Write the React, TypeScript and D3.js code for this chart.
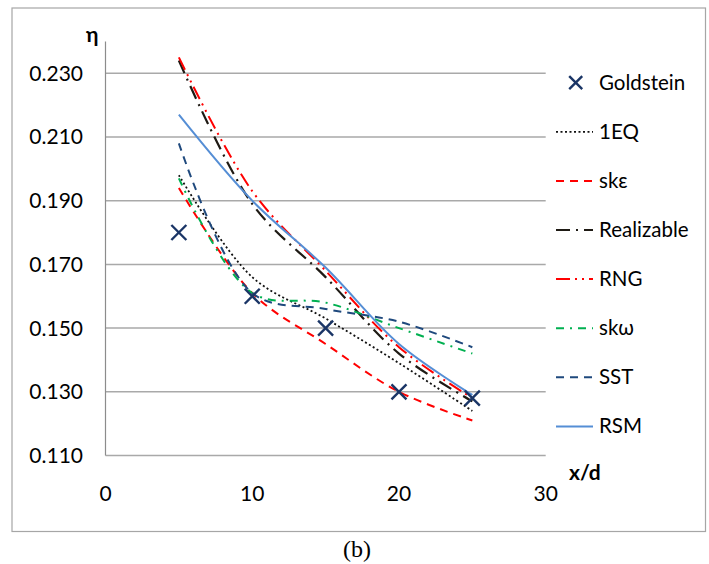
import React from "react";
import * as d3 from "d3";

const xValues = [5, 10, 15, 20, 25];
const goldstein = [0.180, 0.160, 0.150, 0.130, 0.128];
const eq1 = [0.198, 0.166, 0.153, 0.139, 0.124];
const skEps = [0.194, 0.161, 0.145, 0.130, 0.121];
const realizable = [0.234, 0.189, 0.166, 0.142, 0.127];
const rng = [0.235, 0.193, 0.168, 0.144, 0.128];
const skOmega = [0.197, 0.161, 0.158, 0.150, 0.142];
const sst = [0.208, 0.161, 0.156, 0.152, 0.144];
const rsm = [0.217, 0.190, 0.169, 0.145, 0.129];

const xTicks = [0, 10, 20, 30];
const yTicks = [0.11, 0.13, 0.15, 0.17, 0.19, 0.21, 0.23];

const lineSeries = [
  { name: "1EQ", values: eq1, color: "#111111", dash: "2,2.5", width: 1.8 },
  { name: "skε", values: skEps, color: "#ff0000", dash: "8,6", width: 2 },
  { name: "Realizable", values: realizable, color: "#1e1a14", dash: "14,6,2,6", width: 2.2 },
  { name: "RNG", values: rng, color: "#ff0000", dash: "14,5,2,5,2,5", width: 2 },
  { name: "skω", values: skOmega, color: "#00b050", dash: "8,6,2,6", width: 2 },
  { name: "SST", values: sst, color: "#1f497d", dash: "8,6", width: 2 },
  { name: "RSM", values: rsm, color: "#558ed5", dash: "", width: 2 },
];

const FONT = "Lato, 'Noto Sans', 'DejaVu Sans', sans-serif";
const MARK = "#1a3566";

export default function App() {
  const x = d3.scaleLinear().domain([0, 30]).range([105.5, 545.7]);
  const y = d3.scaleLinear().domain([0.11, 0.24]).range([455.5, 41.4]);
  const line = d3
    .line<number>()
    .x((_, i) => x(xValues[i]))
    .y((d) => y(d))
    .curve(d3.curveCatmullRom.alpha(0.5));

  const legendX0 = 556;
  const legendX1 = 593;
  const legendTextX = 599;
  const legendY0 = 82.7;
  const legendStep = 49.1;

  const cross = (cx: number, cy: number, s: number, key: string) => (
    <g key={key} stroke={MARK} strokeWidth={2.4}>
      <line x1={cx - s} y1={cy - s} x2={cx + s} y2={cy + s} />
      <line x1={cx - s} y1={cy + s} x2={cx + s} y2={cy - s} />
    </g>
  );

  return (
    <svg
      width={709}
      height={564}
      style={{ position: "absolute", left: 0, top: 0, background: "#fff" }}
      fontFamily={FONT}
    >
      <rect x={0} y={0} width={709} height={564} fill="#fff" />
      <rect x={12} y={8} width={693.5} height={523.5} fill="#fff" stroke="#a6a6a6" strokeWidth={1.2} />

      {yTicks.map((t) => (
        <g key={"y" + t}>
          <line x1={x(0)} x2={x(30)} y1={y(t)} y2={y(t)} stroke="#a9a9a9" strokeWidth={1.5} />
          <text x={83} y={y(t) + 7.5} textAnchor="end" fontSize={21} fill="#000">
            {d3.format(".3f")(t)}
          </text>
        </g>
      ))}
      <line x1={x(0)} x2={x(0)} y1={y(0.24)} y2={y(0.11)} stroke="#8c8c8c" strokeWidth={1.2} />

      {xTicks.map((t) => (
        <text key={"x" + t} x={x(t)} y={501} textAnchor="middle" fontSize={21} fill="#000">
          {t}
        </text>
      ))}

      <text x={86} y={42} fontSize={21} fontWeight="bold" fill="#000">η</text>
      <text x={569} y={480} fontSize={21} fontWeight="bold" fill="#000">x/d</text>

      {lineSeries.map((s) => (
        <path
          key={s.name}
          d={line(s.values) || ""}
          fill="none"
          stroke={s.color}
          strokeWidth={s.width}
          strokeDasharray={s.dash}
        />
      ))}

      {goldstein.map((v, i) => cross(x(xValues[i]), y(v), 7.5, "g" + i))}

      {cross(575.7, legendY0, 6.5, "lg")}
      <text x={legendTextX} y={legendY0 + 7} fontSize={20.5} fill="#000">Goldstein</text>
      {lineSeries.map((s, i) => {
        const ly = legendY0 + legendStep * (i + 1);
        return (
          <g key={"l" + s.name}>
            <line
              x1={legendX0}
              x2={legendX1}
              y1={ly}
              y2={ly}
              stroke={s.color}
              strokeWidth={s.width}
              strokeDasharray={s.dash}
            />
            <text x={legendTextX} y={ly + 7} fontSize={20.5} fill="#000">
              {s.name}
            </text>
          </g>
        );
      })}

      <text
        x={357}
        y={557}
        textAnchor="middle"
        fontSize={24}
        fontFamily="'Liberation Serif', 'DejaVu Serif', serif"
        fill="#000"
      >
        (b)
      </text>
    </svg>
  );
}
